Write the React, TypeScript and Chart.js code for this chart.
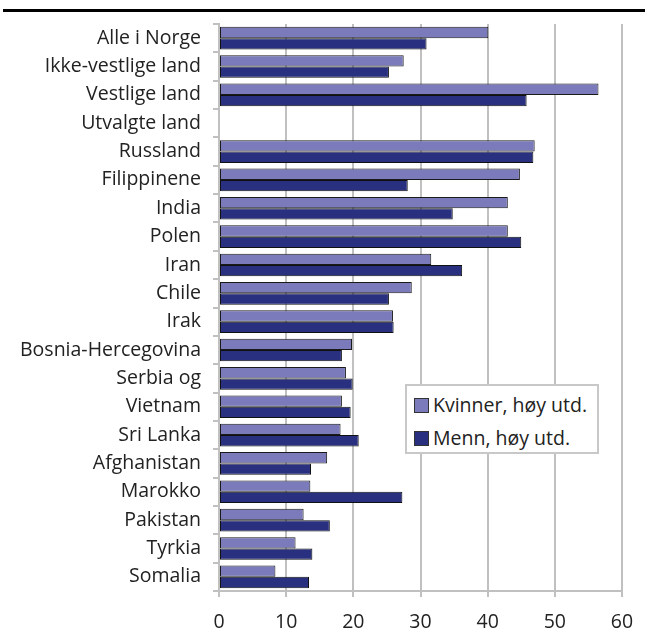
import React, { useEffect, useRef } from "react";
import { Chart, registerables } from "chart.js";

Chart.register(...registerables);

const categories = [
  "Alle i Norge",
  "Ikke-vestlige land",
  "Vestlige land",
  "Utvalgte land",
  "Russland",
  "Filippinene",
  "India",
  "Polen",
  "Iran",
  "Chile",
  "Irak",
  "Bosnia-Hercegovina",
  "Serbia og",
  "Vietnam",
  "Sri Lanka",
  "Afghanistan",
  "Marokko",
  "Pakistan",
  "Tyrkia",
  "Somalia",
];

const kvinner = [40.1, 27.5, 56.5, null, 47.0, 44.8, 43.0, 43.0, 31.6, 28.7, 25.9, 19.8, 18.9, 18.3, 18.1, 16.1, 13.6, 12.6, 11.4, 8.4];
const menn = [30.9, 25.3, 45.8, null, 46.8, 28.1, 34.8, 45.0, 36.2, 25.3, 26.0, 18.3, 19.9, 19.6, 20.8, 13.7, 27.3, 16.5, 13.9, 13.4];

const seriesNames = ["Kvinner, høy utd.", "Menn, høy utd."];
const xTicks = [0, 10, 20, 30, 40, 50, 60];

const colK = "#7b7bbb";
const colM = "#29307f";
const FONT = "'Open Sans', sans-serif";
const FS = 19.5;

export default function App() {
  const ref = useRef<HTMLCanvasElement | null>(null);

  useEffect(() => {
    if (!ref.current) return;
    const chart = new Chart(ref.current, {
      type: "bar",
      data: {
        labels: categories,
        datasets: [
          {
            label: seriesNames[0],
            data: kvinner,
            backgroundColor: colK,
            borderColor: "#1a1a1a",
            borderWidth: 1,
            borderSkipped: false,
            categoryPercentage: 0.8,
            barPercentage: 1.0,
          },
          {
            label: seriesNames[1],
            data: menn,
            backgroundColor: colM,
            borderColor: "#111111",
            borderWidth: 1,
            borderSkipped: false,
            categoryPercentage: 0.8,
            barPercentage: 1.0,
          },
        ],
      },
      options: {
        indexAxis: "y",
        animation: false,
        responsive: false,
        maintainAspectRatio: false,
        layout: { padding: { top: 24, right: 30, left: 0, bottom: 0 } },
        plugins: {
          legend: { display: false },
          tooltip: { enabled: false },
          title: { display: false },
        },
        scales: {
          x: {
            min: 0,
            max: 60,
            afterFit: (s: any) => {
              s.height = 46;
            },
            afterBuildTicks: (s: any) => {
              s.ticks = xTicks.map((v) => ({ value: v }));
            },
            ticks: {
              color: "#222",
              font: { family: FONT, size: FS },
              padding: 14,
            },
            grid: {
              color: "#c0c0c0",
              lineWidth: 2,
              drawTicks: true,
              tickLength: 6,
              tickColor: "#c0c0c0",
            },
            border: { display: true, color: "#c0c0c0", width: 2 },
          },
          y: {
            afterFit: (s: any) => {
              s.width = 219;
            },
            ticks: {
              color: "#222",
              font: { family: FONT, size: FS },
              padding: 12,
              autoSkip: false,
            },
            grid: {
              offset: true,
              drawOnChartArea: false,
              drawTicks: true,
              tickLength: 6,
              color: "#c0c0c0",
              lineWidth: 2,
            },
            border: { display: true, color: "#c0c0c0", width: 2 },
          },
        },
      },
    });
    return () => chart.destroy();
  }, []);

  return (
    <div style={{ position: "fixed", left: 0, top: 0, width: 652, height: 637, background: "#fff", overflow: "hidden" }}>
      <div style={{ position: "absolute", left: 3, top: 9, width: 642, height: 3, background: "#000" }} />
      <canvas ref={ref} width={652} height={637} style={{ position: "absolute", left: 0, top: 0 }} />
      <div
        style={{
          position: "absolute",
          left: 405,
          top: 384,
          width: 190,
          height: 66,
          background: "#fff",
          border: "2px solid #c8c8c8",
          fontFamily: FONT,
          fontSize: FS,
          color: "#222",
        }}
      >
        {seriesNames.map((n, i) => (
          <div key={n} style={{ position: "absolute", left: 7, top: i === 0 ? 8 : 41, display: "flex", alignItems: "center", whiteSpace: "nowrap", lineHeight: "22px" }}>
            <span
              style={{
                display: "inline-block",
                width: 13,
                height: 13,
                background: i === 0 ? colK : colM,
                border: "1px solid #333",
                marginRight: 4,
              }}
            />
            {n}
          </div>
        ))}
      </div>
    </div>
  );
}
